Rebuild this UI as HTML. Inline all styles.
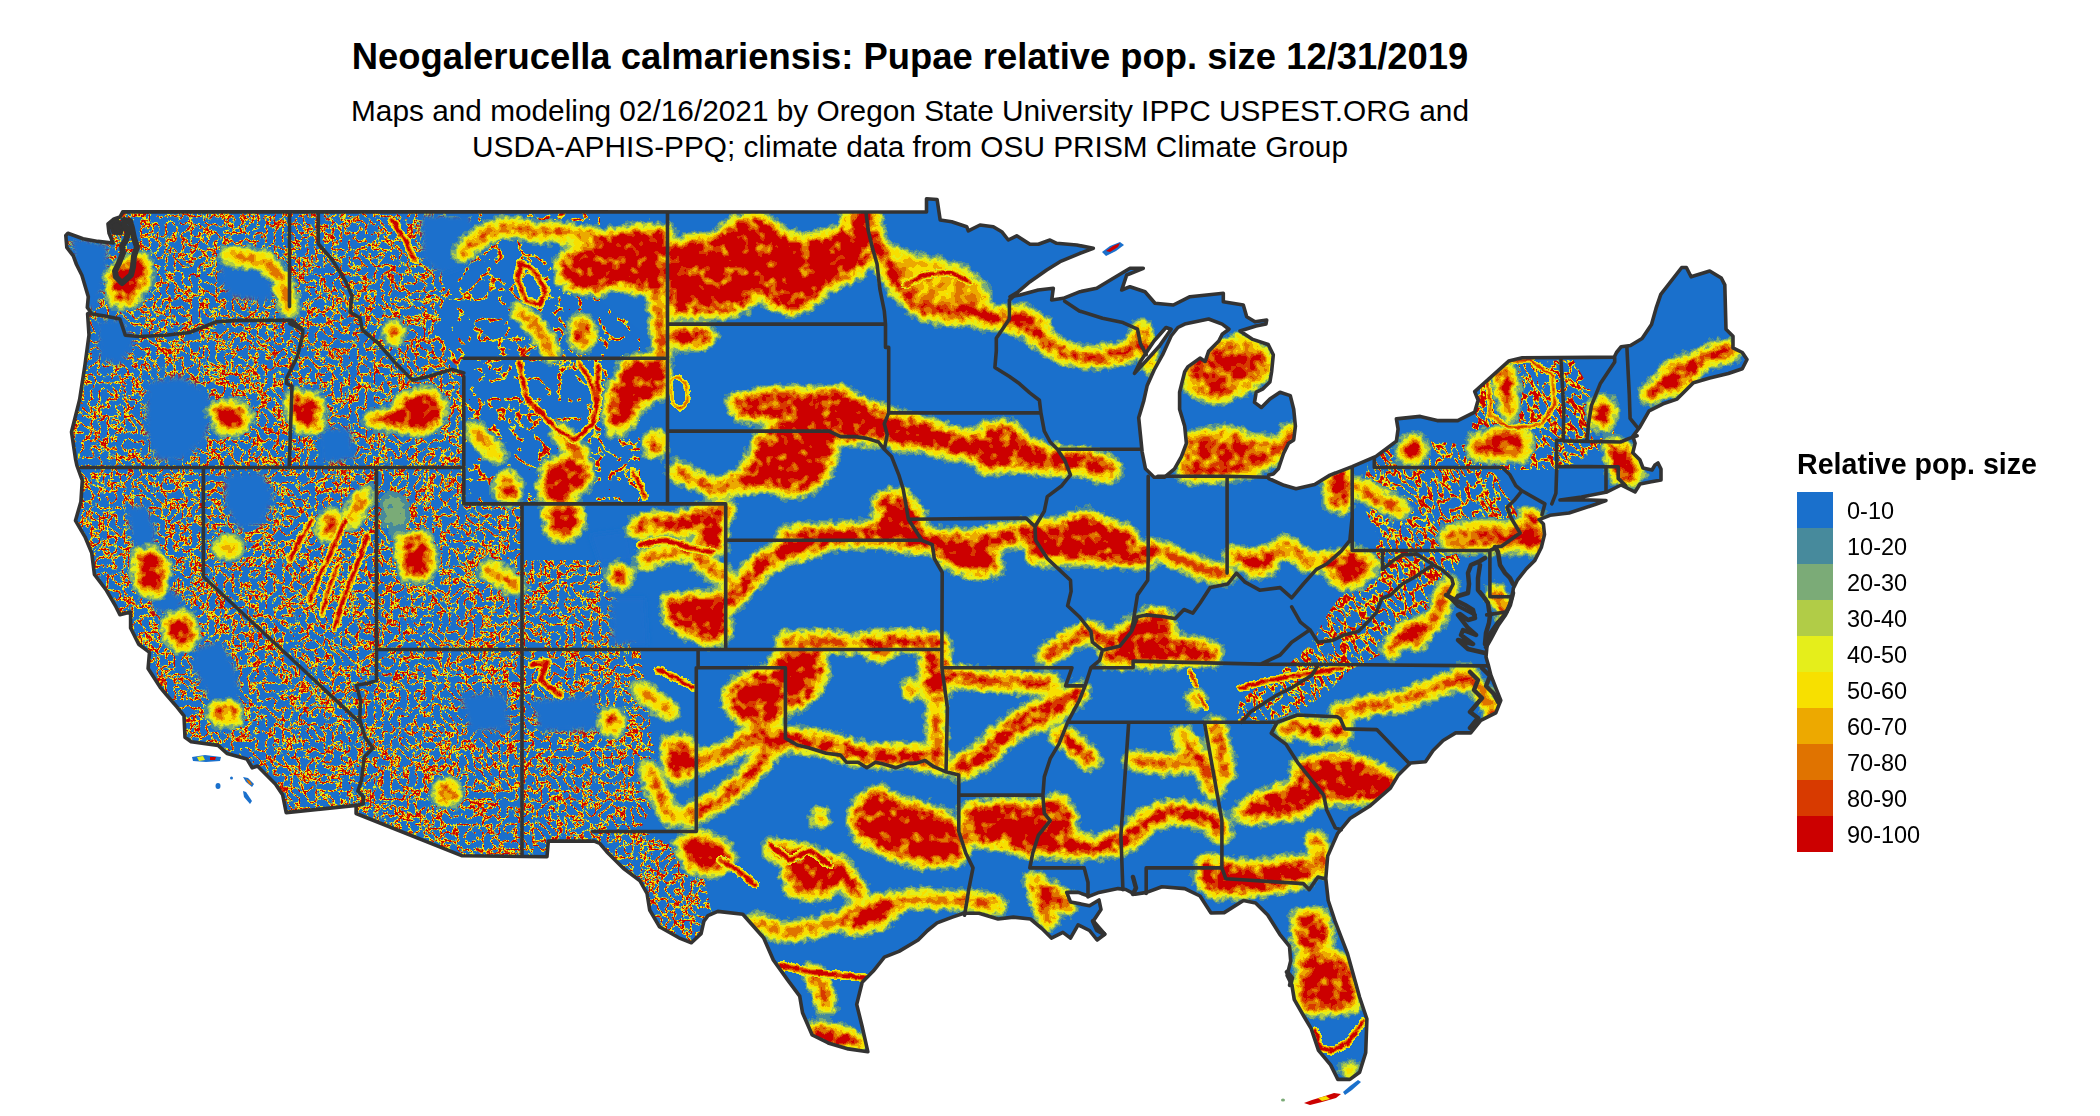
<!DOCTYPE html>
<html><head><meta charset="utf-8"><style>
html,body{margin:0;padding:0;background:#fff;width:2100px;height:1116px;overflow:hidden}
svg{display:block}
text{font-family:"Liberation Sans",Arial,sans-serif;fill:#000}
.t{font-size:36.4px;font-weight:bold}
.s{font-size:29.8px}
.lt{font-size:28.6px;font-weight:bold}
.lab{font-size:23.5px}
</style></head><body>
<svg width="2100" height="1116" viewBox="0 0 2100 1116">
<rect width="2100" height="1116" fill="#fff"/>
<text x="910" y="69.4" text-anchor="middle" class="t">Neogalerucella calmariensis: Pupae relative pop. size 12/31/2019</text>
<text x="910" y="120.9" text-anchor="middle" class="s">Maps and modeling 02/16/2021 by Oregon State University IPPC USPEST.ORG and</text>
<text x="910" y="156.9" text-anchor="middle" class="s">USDA-APHIS-PPQ; climate data from OSU PRISM Climate Group</text>
<defs>
<clipPath id="us"><path d="M113.1,243.0 L109.0,233.0 L108.0,224.0 L114.0,219.0 L120.0,217.0 L122.7,211.8 L926.5,212.0 L926.5,198.7 L937.1,199.5 L940.2,220.0 L951.7,221.7 L966.7,226.7 L968.3,230.8 L980.0,225.0 L993.3,226.7 L1001.7,231.7 L1008.3,240.0 L1016.7,235.8 L1030.0,244.2 L1038.3,244.2 L1050.0,240.0 L1056.7,243.3 L1076.7,245.0 L1093.3,248.3 L1080.0,253.3 L1060.0,261.7 L1046.7,270.0 L1030.0,281.7 L1018.3,291.7 L1010.0,296.7 L1020.0,295.0 L1038.3,290.0 L1053.3,288.3 L1051.7,300.0 L1063.3,298.3 L1080.0,291.7 L1096.7,288.3 L1113.3,278.3 L1130.0,268.3 L1143.3,268.3 L1126.7,275.0 L1121.7,290.0 L1130.0,286.7 L1145.0,291.7 L1155.0,303.3 L1173.3,305.0 L1190.0,296.7 L1223.3,293.3 L1223.3,301.7 L1243.3,305.0 L1246.7,316.7 L1255.0,321.7 L1266.7,320.0 L1266.0,324.0 L1256.0,326.0 L1240.0,331.0 L1252.8,339.4 L1268.2,344.5 L1273.3,354.7 L1271.6,371.7 L1269.9,382.0 L1263.0,388.8 L1256.2,392.2 L1254.5,402.4 L1261.4,407.5 L1269.9,399.0 L1280.0,392.2 L1290.3,395.6 L1293.7,409.2 L1295.4,426.2 L1293.7,439.9 L1288.6,443.3 L1283.5,453.5 L1278.4,468.8 L1273.3,473.9 L1268.7,475.1 L1268.7,478.5 L1284.0,485.3 L1296.0,488.7 L1314.7,484.5 L1330.0,475.1 L1352.1,466.6 L1376.0,456.4 L1396.4,441.1 L1398.1,429.1 L1396.4,418.9 L1420.2,416.4 L1437.2,420.6 L1457.7,420.6 L1474.7,412.1 L1478.1,400.2 L1474.7,391.7 L1491.7,376.4 L1508.7,361.1 L1522.3,357.7 L1614.2,357.2 L1616.5,352.5 L1621.2,346.7 L1630.5,345.5 L1642.1,338.5 L1651.5,324.6 L1656.1,308.2 L1660.8,294.3 L1681.7,267.5 L1686.4,267.5 L1691.1,276.8 L1709.7,271.0 L1721.3,278.0 L1724.8,284.9 L1726.0,329.2 L1733.0,336.2 L1733.0,347.9 L1742.3,352.5 L1747.0,359.5 L1742.3,368.8 L1728.3,373.5 L1709.7,378.1 L1693.4,382.8 L1677.1,399.1 L1663.1,403.8 L1649.1,410.8 L1639.8,427.1 L1632.8,436.4 L1635.1,443.4 L1632.8,452.7 L1639.8,459.7 L1643.0,468.0 L1652.0,470.0 L1655.0,465.0 L1658.0,463.0 L1661.0,469.0 L1661.0,480.0 L1650.0,482.0 L1640.0,484.0 L1635.0,492.0 L1621.0,485.0 L1607.0,492.0 L1581.5,497.0 L1560.0,500.0 L1590.0,500.0 L1606.0,500.5 L1595.0,504.5 L1569.0,513.0 L1550.0,515.3 L1539.1,519.6 L1543.4,523.9 L1544.5,534.6 L1541.3,547.5 L1534.8,560.4 L1526.2,569.0 L1517.6,579.8 L1513.3,588.4 L1512.3,597.0 L1506.9,612.0 L1497.2,622.8 L1489.7,633.5 L1487.0,646.0 L1486.0,657.0 L1488.3,665.0 L1490.8,675.0 L1495.8,687.8 L1500.8,700.3 L1495.8,712.8 L1480.8,720.4 L1470.7,732.9 L1455.7,732.9 L1443.1,740.5 L1433.1,750.5 L1425.5,761.8 L1410.5,763.0 L1397.9,775.6 L1390.4,788.1 L1370.3,805.7 L1350.3,818.2 L1337.7,833.3 L1327.7,855.9 L1326.4,870.9 L1325.8,878.7 L1328.2,900.5 L1335.4,922.2 L1347.5,953.7 L1359.6,997.2 L1366.9,1019.0 L1365.7,1052.8 L1359.6,1072.2 L1349.9,1079.4 L1337.8,1079.4 L1330.6,1064.9 L1318.5,1050.4 L1311.2,1028.6 L1304.0,1016.5 L1294.3,999.6 L1291.9,985.1 L1287.1,975.4 L1290.7,960.9 L1289.5,946.4 L1279.8,934.3 L1267.7,915.0 L1255.6,902.9 L1243.5,900.5 L1224.2,912.6 L1211.0,913.0 L1200.0,896.0 L1184.8,888.6 L1161.9,886.7 L1146.7,892.4 L1135.2,894.3 L1125.7,889.5 L1118.1,888.6 L1099.0,892.4 L1089.5,896.2 L1078.1,892.4 L1066.7,892.4 L1070.5,901.9 L1089.5,905.7 L1099.0,900.0 L1101.0,909.5 L1093.3,921.0 L1104.8,934.3 L1097.1,940.0 L1089.5,930.5 L1078.1,924.8 L1070.5,938.1 L1062.9,932.4 L1051.4,938.1 L1041.9,928.6 L1030.5,919.0 L1013.3,917.1 L998.1,919.0 L979.0,913.3 L963.8,913.3 L952.4,917.1 L937.1,922.9 L927.6,930.5 L918.1,940.0 L899.0,951.4 L884.4,957.2 L873.3,971.1 L862.2,982.2 L856.7,1004.4 L862.2,1026.7 L867.8,1051.7 L848.3,1048.9 L828.9,1043.3 L812.2,1035.0 L802.5,1012.8 L799.7,996.1 L787.2,979.4 L773.3,960.0 L763.6,937.8 L753.9,926.7 L742.8,914.2 L717.8,911.4 L708.0,915.6 L703.9,921.1 L701.1,933.6 L691.4,942.8 L678.9,937.8 L659.4,926.7 L649.7,910.0 L647.0,893.3 L640.0,880.8 L623.3,868.3 L606.7,851.7 L599.7,843.3 L594.2,841.1 L548.3,841.1 L547.0,856.7 L462.2,855.8 L356.1,813.5 L356.1,805.4 L286.2,812.6 L282.6,794.7 L275.4,784.0 L257.5,766.0 L252.2,767.8 L246.8,758.9 L227.0,753.5 L218.1,745.4 L191.2,741.8 L185.0,737.3 L184.0,715.8 L176.9,706.9 L166.0,694.3 L160.2,687.3 L148.1,668.5 L149.5,652.4 L138.7,644.3 L130.6,628.0 L130.6,612.0 L119.9,614.7 L115.9,606.7 L106.5,590.5 L94.4,574.4 L91.7,552.9 L85.0,536.8 L75.5,520.6 L80.9,501.8 L82.3,480.3 L76.9,465.5 L75.5,458.8 L71.5,432.0 L79.6,399.7 L85.0,364.7 L89.0,335.0 L87.6,313.7 L90.5,311.8 L87.3,307.5 L88.3,296.8 L85.1,286.0 L81.9,275.3 L76.5,264.5 L73.3,255.9 L66.8,247.3 L65.8,235.5 L67.9,233.3 L83.0,238.7 L98.0,241.4Z M1184.7,324.1 L1208.6,319.0 L1222.2,324.1 L1229.0,329.2 L1222.2,334.3 L1218.8,341.1 L1208.6,351.3 L1205.1,361.5 L1200.0,358.1 L1188.1,366.6 L1184.7,371.7 L1179.6,392.2 L1179.6,409.2 L1184.7,426.2 L1186.4,443.3 L1181.3,456.9 L1174.5,468.8 L1164.3,477.3 L1154.1,477.3 L1145.5,468.8 L1142.1,451.8 L1140.4,434.8 L1138.7,417.7 L1143.8,400.7 L1147.2,385.4 L1154.1,370.0 L1162.6,354.7 L1171.1,336.0 L1177.9,327.5Z M1134.5,373.4 L1145.5,361.5 L1159.2,346.2 L1171.1,329.2 L1166.0,327.5 L1154.0,341.0 L1140.4,361.5Z" clip-rule="evenodd"/></clipPath>
</defs>
<g clip-path="url(#us)">
<rect x="50" y="190" width="1710" height="920" fill="#1a70cc"/>
<defs>
<filter id="tex" filterUnits="userSpaceOnUse" x="50" y="190" width="720" height="800" color-interpolation-filters="sRGB"><feTurbulence type="turbulence" baseFrequency="0.12" numOctaves="3" seed="3" result="n"/><feColorMatrix in="n" type="matrix" values="1 0 0 0 0  1 0 0 0 0  1 0 0 0 0  0 0 0 0 1"/><feComponentTransfer><feFuncR type="discrete" tableValues="0.800 0.800 0.800 0.800 0.800 0.800 0.800 0.800 0.800 0.800 0.800 0.800 0.847 0.847 0.847 0.878 0.878 0.969 0.969 0.969 0.898 0.898 0.898 0.482 0.482 0.482 0.278 0.278 0.102 0.102 0.102 0.102 0.102 0.102 0.102 0.102 0.102 0.102 0.102 0.102 0.102 0.102 0.102 0.102 0.102 0.102 0.102 0.102 0.102 0.102 0.102 0.102 0.102 0.102 0.102 0.102 0.102 0.102 0.102 0.102 0.102 0.102 0.102 0.102 0.102 0.102 0.102 0.102 0.102 0.102 0.102 0.102 0.102 0.102 0.102 0.102 0.102 0.102 0.102 0.102 0.102 0.102 0.102 0.102 0.102 0.102 0.102 0.102 0.102 0.102 0.102 0.102 0.102 0.102 0.102 0.102 0.102 0.102 0.102 0.102"/><feFuncG type="discrete" tableValues="0.000 0.000 0.000 0.000 0.000 0.000 0.000 0.000 0.000 0.000 0.000 0.000 0.227 0.227 0.227 0.451 0.451 0.878 0.878 0.878 0.933 0.933 0.933 0.671 0.671 0.671 0.541 0.541 0.439 0.439 0.439 0.439 0.439 0.439 0.439 0.439 0.439 0.439 0.439 0.439 0.439 0.439 0.439 0.439 0.439 0.439 0.439 0.439 0.439 0.439 0.439 0.439 0.439 0.439 0.439 0.439 0.439 0.439 0.439 0.439 0.439 0.439 0.439 0.439 0.439 0.439 0.439 0.439 0.439 0.439 0.439 0.439 0.439 0.439 0.439 0.439 0.439 0.439 0.439 0.439 0.439 0.439 0.439 0.439 0.439 0.439 0.439 0.439 0.439 0.439 0.439 0.439 0.439 0.439 0.439 0.439 0.439 0.439 0.439 0.439"/><feFuncB type="discrete" tableValues="0.000 0.000 0.000 0.000 0.000 0.000 0.000 0.000 0.000 0.000 0.000 0.000 0.000 0.000 0.000 0.000 0.000 0.000 0.000 0.000 0.106 0.106 0.106 0.467 0.467 0.467 0.612 0.612 0.800 0.800 0.800 0.800 0.800 0.800 0.800 0.800 0.800 0.800 0.800 0.800 0.800 0.800 0.800 0.800 0.800 0.800 0.800 0.800 0.800 0.800 0.800 0.800 0.800 0.800 0.800 0.800 0.800 0.800 0.800 0.800 0.800 0.800 0.800 0.800 0.800 0.800 0.800 0.800 0.800 0.800 0.800 0.800 0.800 0.800 0.800 0.800 0.800 0.800 0.800 0.800 0.800 0.800 0.800 0.800 0.800 0.800 0.800 0.800 0.800 0.800 0.800 0.800 0.800 0.800 0.800 0.800 0.800 0.800 0.800 0.800"/><feFuncA type="discrete" tableValues="1.000 1.000 1.000 1.000 1.000 1.000 1.000 1.000 1.000 1.000 1.000 1.000 1.000 1.000 1.000 1.000 1.000 1.000 1.000 1.000 1.000 1.000 1.000 1.000 1.000 1.000 1.000 1.000 1.000 1.000 1.000 1.000 1.000 1.000 1.000 1.000 1.000 1.000 1.000 1.000 1.000 1.000 1.000 1.000 1.000 1.000 1.000 1.000 1.000 1.000 1.000 1.000 1.000 1.000 1.000 1.000 1.000 1.000 1.000 1.000 1.000 1.000 1.000 1.000 1.000 1.000 1.000 1.000 1.000 1.000 1.000 1.000 1.000 1.000 1.000 1.000 1.000 1.000 1.000 1.000 1.000 1.000 1.000 1.000 1.000 1.000 1.000 1.000 1.000 1.000 1.000 1.000 1.000 1.000 1.000 1.000 1.000 1.000 1.000 1.000"/></feComponentTransfer></filter>
<filter id="texl" filterUnits="userSpaceOnUse" x="50" y="190" width="720" height="800" color-interpolation-filters="sRGB"><feTurbulence type="turbulence" baseFrequency="0.05" numOctaves="3" seed="7" result="n"/><feColorMatrix in="n" type="matrix" values="1 0 0 0 0  1 0 0 0 0  1 0 0 0 0  0 0 0 0 1"/><feComponentTransfer><feFuncR type="discrete" tableValues="0.800 0.800 0.800 0.800 0.800 0.800 0.800 0.800 0.847 0.847 0.878 0.969 0.969 0.898 0.898 0.482 0.278 0.102 0.102 0.102 0.102 0.102 0.102 0.102 0.102 0.102 0.102 0.102 0.102 0.102 0.102 0.102 0.102 0.102 0.102 0.102 0.102 0.102 0.102 0.102 0.102 0.102 0.102 0.102 0.102 0.102 0.102 0.102 0.102 0.102 0.102 0.102 0.102 0.102 0.102 0.102 0.102 0.102 0.102 0.102 0.102 0.102 0.102 0.102 0.102 0.102 0.102 0.102 0.102 0.102 0.102 0.102 0.102 0.102 0.102 0.102 0.102 0.102 0.102 0.102 0.102 0.102 0.102 0.102 0.102 0.102 0.102 0.102 0.102 0.102 0.102 0.102 0.102 0.102 0.102 0.102 0.102 0.102 0.102 0.102"/><feFuncG type="discrete" tableValues="0.000 0.000 0.000 0.000 0.000 0.000 0.000 0.000 0.227 0.227 0.451 0.878 0.878 0.933 0.933 0.671 0.541 0.439 0.439 0.439 0.439 0.439 0.439 0.439 0.439 0.439 0.439 0.439 0.439 0.439 0.439 0.439 0.439 0.439 0.439 0.439 0.439 0.439 0.439 0.439 0.439 0.439 0.439 0.439 0.439 0.439 0.439 0.439 0.439 0.439 0.439 0.439 0.439 0.439 0.439 0.439 0.439 0.439 0.439 0.439 0.439 0.439 0.439 0.439 0.439 0.439 0.439 0.439 0.439 0.439 0.439 0.439 0.439 0.439 0.439 0.439 0.439 0.439 0.439 0.439 0.439 0.439 0.439 0.439 0.439 0.439 0.439 0.439 0.439 0.439 0.439 0.439 0.439 0.439 0.439 0.439 0.439 0.439 0.439 0.439"/><feFuncB type="discrete" tableValues="0.000 0.000 0.000 0.000 0.000 0.000 0.000 0.000 0.000 0.000 0.000 0.000 0.000 0.106 0.106 0.467 0.612 0.800 0.800 0.800 0.800 0.800 0.800 0.800 0.800 0.800 0.800 0.800 0.800 0.800 0.800 0.800 0.800 0.800 0.800 0.800 0.800 0.800 0.800 0.800 0.800 0.800 0.800 0.800 0.800 0.800 0.800 0.800 0.800 0.800 0.800 0.800 0.800 0.800 0.800 0.800 0.800 0.800 0.800 0.800 0.800 0.800 0.800 0.800 0.800 0.800 0.800 0.800 0.800 0.800 0.800 0.800 0.800 0.800 0.800 0.800 0.800 0.800 0.800 0.800 0.800 0.800 0.800 0.800 0.800 0.800 0.800 0.800 0.800 0.800 0.800 0.800 0.800 0.800 0.800 0.800 0.800 0.800 0.800 0.800"/><feFuncA type="discrete" tableValues="1.000 1.000 1.000 1.000 1.000 1.000 1.000 1.000 1.000 1.000 1.000 1.000 1.000 1.000 1.000 1.000 1.000 1.000 1.000 1.000 1.000 1.000 1.000 1.000 1.000 1.000 1.000 1.000 1.000 1.000 1.000 1.000 1.000 1.000 1.000 1.000 1.000 1.000 1.000 1.000 1.000 1.000 1.000 1.000 1.000 1.000 1.000 1.000 1.000 1.000 1.000 1.000 1.000 1.000 1.000 1.000 1.000 1.000 1.000 1.000 1.000 1.000 1.000 1.000 1.000 1.000 1.000 1.000 1.000 1.000 1.000 1.000 1.000 1.000 1.000 1.000 1.000 1.000 1.000 1.000 1.000 1.000 1.000 1.000 1.000 1.000 1.000 1.000 1.000 1.000 1.000 1.000 1.000 1.000 1.000 1.000 1.000 1.000 1.000 1.000"/></feComponentTransfer></filter>
<filter id="heat" filterUnits="userSpaceOnUse" x="50" y="190" width="1720" height="930" color-interpolation-filters="sRGB"><feGaussianBlur in="SourceAlpha" stdDeviation="5.0" result="b"/><feTurbulence type="fractalNoise" baseFrequency="0.15" numOctaves="2" seed="11" result="n"/><feDisplacementMap in="b" in2="n" scale="9" xChannelSelector="R" yChannelSelector="G" result="f"/><feTurbulence type="fractalNoise" baseFrequency="0.09" numOctaves="2" seed="23" result="m0"/><feColorMatrix in="m0" type="matrix" values="0 0 0 0 0  0 0 0 0 0  0 0 0 0 0  2.6 0 0 0 -1.05" result="m"/><feComposite in="f" in2="m" operator="arithmetic" k1="-0.55" k2="1" k3="0" k4="0" result="g"/><feColorMatrix in="g" type="matrix" values="0 0 0 1 0  0 0 0 1 0  0 0 0 1 0  0 0 0 1 0"/><feComponentTransfer><feFuncR type="discrete" tableValues="0.000 0.000 0.278 0.278 0.278 0.482 0.482 0.482 0.482 0.694 0.694 0.694 0.694 0.694 0.898 0.898 0.898 0.898 0.898 0.898 0.898 0.898 0.898 0.898 0.969 0.969 0.969 0.969 0.969 0.969 0.969 0.969 0.969 0.969 0.969 0.969 0.969 0.969 0.929 0.929 0.929 0.929 0.929 0.929 0.929 0.929 0.929 0.929 0.929 0.929 0.878 0.878 0.878 0.878 0.878 0.878 0.878 0.878 0.878 0.878 0.878 0.878 0.847 0.847 0.847 0.847 0.847 0.847 0.847 0.847 0.847 0.847 0.847 0.847 0.800 0.800 0.800 0.800 0.800 0.800 0.800 0.800 0.800 0.800 0.800 0.800 0.800 0.800 0.800 0.800 0.800 0.800 0.800 0.800 0.800 0.800 0.800 0.800 0.800 0.800"/><feFuncG type="discrete" tableValues="0.000 0.000 0.541 0.541 0.541 0.671 0.671 0.671 0.671 0.800 0.800 0.800 0.800 0.800 0.933 0.933 0.933 0.933 0.933 0.933 0.933 0.933 0.933 0.933 0.878 0.878 0.878 0.878 0.878 0.878 0.878 0.878 0.878 0.878 0.878 0.878 0.878 0.878 0.663 0.663 0.663 0.663 0.663 0.663 0.663 0.663 0.663 0.663 0.663 0.663 0.451 0.451 0.451 0.451 0.451 0.451 0.451 0.451 0.451 0.451 0.451 0.451 0.227 0.227 0.227 0.227 0.227 0.227 0.227 0.227 0.227 0.227 0.227 0.227 0.000 0.000 0.000 0.000 0.000 0.000 0.000 0.000 0.000 0.000 0.000 0.000 0.000 0.000 0.000 0.000 0.000 0.000 0.000 0.000 0.000 0.000 0.000 0.000 0.000 0.000"/><feFuncB type="discrete" tableValues="0.000 0.000 0.612 0.612 0.612 0.467 0.467 0.467 0.467 0.278 0.278 0.278 0.278 0.278 0.106 0.106 0.106 0.106 0.106 0.106 0.106 0.106 0.106 0.106 0.000 0.000 0.000 0.000 0.000 0.000 0.000 0.000 0.000 0.000 0.000 0.000 0.000 0.000 0.000 0.000 0.000 0.000 0.000 0.000 0.000 0.000 0.000 0.000 0.000 0.000 0.000 0.000 0.000 0.000 0.000 0.000 0.000 0.000 0.000 0.000 0.000 0.000 0.000 0.000 0.000 0.000 0.000 0.000 0.000 0.000 0.000 0.000 0.000 0.000 0.000 0.000 0.000 0.000 0.000 0.000 0.000 0.000 0.000 0.000 0.000 0.000 0.000 0.000 0.000 0.000 0.000 0.000 0.000 0.000 0.000 0.000 0.000 0.000 0.000 0.000"/><feFuncA type="discrete" tableValues="0.000 0.000 1.000 1.000 1.000 1.000 1.000 1.000 1.000 1.000 1.000 1.000 1.000 1.000 1.000 1.000 1.000 1.000 1.000 1.000 1.000 1.000 1.000 1.000 1.000 1.000 1.000 1.000 1.000 1.000 1.000 1.000 1.000 1.000 1.000 1.000 1.000 1.000 1.000 1.000 1.000 1.000 1.000 1.000 1.000 1.000 1.000 1.000 1.000 1.000 1.000 1.000 1.000 1.000 1.000 1.000 1.000 1.000 1.000 1.000 1.000 1.000 1.000 1.000 1.000 1.000 1.000 1.000 1.000 1.000 1.000 1.000 1.000 1.000 1.000 1.000 1.000 1.000 1.000 1.000 1.000 1.000 1.000 1.000 1.000 1.000 1.000 1.000 1.000 1.000 1.000 1.000 1.000 1.000 1.000 1.000 1.000 1.000 1.000 1.000"/></feComponentTransfer></filter>
<filter id="heatb" filterUnits="userSpaceOnUse" x="50" y="190" width="1720" height="930" color-interpolation-filters="sRGB"><feGaussianBlur in="SourceAlpha" stdDeviation="1.5" result="b"/><feTurbulence type="fractalNoise" baseFrequency="0.15" numOctaves="2" seed="11" result="n"/><feDisplacementMap in="b" in2="n" scale="4" xChannelSelector="R" yChannelSelector="G" result="f"/><feTurbulence type="fractalNoise" baseFrequency="0.09" numOctaves="2" seed="23" result="m0"/><feColorMatrix in="m0" type="matrix" values="0 0 0 0 0  0 0 0 0 0  0 0 0 0 0  2.6 0 0 0 -1.05" result="m"/><feComposite in="f" in2="m" operator="arithmetic" k1="-0.3" k2="1" k3="0" k4="0" result="g"/><feColorMatrix in="g" type="matrix" values="0 0 0 1 0  0 0 0 1 0  0 0 0 1 0  0 0 0 1 0"/><feComponentTransfer><feFuncR type="discrete" tableValues="0.000 0.000 0.000 0.000 0.000 0.000 0.000 0.000 0.000 0.000 0.000 0.000 0.694 0.694 0.898 0.898 0.898 0.898 0.898 0.898 0.898 0.898 0.898 0.898 0.969 0.969 0.969 0.969 0.969 0.969 0.969 0.969 0.969 0.969 0.969 0.969 0.969 0.969 0.929 0.929 0.929 0.929 0.929 0.929 0.929 0.929 0.929 0.929 0.929 0.929 0.878 0.878 0.878 0.878 0.878 0.878 0.878 0.878 0.878 0.878 0.878 0.878 0.847 0.847 0.847 0.847 0.847 0.847 0.847 0.847 0.847 0.847 0.847 0.847 0.800 0.800 0.800 0.800 0.800 0.800 0.800 0.800 0.800 0.800 0.800 0.800 0.800 0.800 0.800 0.800 0.800 0.800 0.800 0.800 0.800 0.800 0.800 0.800 0.800 0.800"/><feFuncG type="discrete" tableValues="0.000 0.000 0.000 0.000 0.000 0.000 0.000 0.000 0.000 0.000 0.000 0.000 0.800 0.800 0.933 0.933 0.933 0.933 0.933 0.933 0.933 0.933 0.933 0.933 0.878 0.878 0.878 0.878 0.878 0.878 0.878 0.878 0.878 0.878 0.878 0.878 0.878 0.878 0.663 0.663 0.663 0.663 0.663 0.663 0.663 0.663 0.663 0.663 0.663 0.663 0.451 0.451 0.451 0.451 0.451 0.451 0.451 0.451 0.451 0.451 0.451 0.451 0.227 0.227 0.227 0.227 0.227 0.227 0.227 0.227 0.227 0.227 0.227 0.227 0.000 0.000 0.000 0.000 0.000 0.000 0.000 0.000 0.000 0.000 0.000 0.000 0.000 0.000 0.000 0.000 0.000 0.000 0.000 0.000 0.000 0.000 0.000 0.000 0.000 0.000"/><feFuncB type="discrete" tableValues="0.000 0.000 0.000 0.000 0.000 0.000 0.000 0.000 0.000 0.000 0.000 0.000 0.278 0.278 0.106 0.106 0.106 0.106 0.106 0.106 0.106 0.106 0.106 0.106 0.000 0.000 0.000 0.000 0.000 0.000 0.000 0.000 0.000 0.000 0.000 0.000 0.000 0.000 0.000 0.000 0.000 0.000 0.000 0.000 0.000 0.000 0.000 0.000 0.000 0.000 0.000 0.000 0.000 0.000 0.000 0.000 0.000 0.000 0.000 0.000 0.000 0.000 0.000 0.000 0.000 0.000 0.000 0.000 0.000 0.000 0.000 0.000 0.000 0.000 0.000 0.000 0.000 0.000 0.000 0.000 0.000 0.000 0.000 0.000 0.000 0.000 0.000 0.000 0.000 0.000 0.000 0.000 0.000 0.000 0.000 0.000 0.000 0.000 0.000 0.000"/><feFuncA type="discrete" tableValues="0.000 0.000 0.000 0.000 0.000 0.000 0.000 0.000 0.000 0.000 0.000 0.000 1.000 1.000 1.000 1.000 1.000 1.000 1.000 1.000 1.000 1.000 1.000 1.000 1.000 1.000 1.000 1.000 1.000 1.000 1.000 1.000 1.000 1.000 1.000 1.000 1.000 1.000 1.000 1.000 1.000 1.000 1.000 1.000 1.000 1.000 1.000 1.000 1.000 1.000 1.000 1.000 1.000 1.000 1.000 1.000 1.000 1.000 1.000 1.000 1.000 1.000 1.000 1.000 1.000 1.000 1.000 1.000 1.000 1.000 1.000 1.000 1.000 1.000 1.000 1.000 1.000 1.000 1.000 1.000 1.000 1.000 1.000 1.000 1.000 1.000 1.000 1.000 1.000 1.000 1.000 1.000 1.000 1.000 1.000 1.000 1.000 1.000 1.000 1.000"/></feComponentTransfer></filter>
<clipPath id="westc"><polygon points="60.0,200.0 445.0,200.0 445.0,300.0 430.0,340.0 463.0,372.0 463.0,505.0 522.0,505.0 522.0,560.0 600.0,560.0 640.0,650.0 660.0,790.0 640.0,830.0 700.0,860.0 720.0,950.0 60.0,950.0"/></clipPath>
<clipPath id="westl"><polygon points="445.0,200.0 600.0,200.0 600.0,300.0 640.0,330.0 640.0,505.0 463.0,505.0 463.0,372.0 430.0,340.0 445.0,300.0"/></clipPath>
<clipPath id="appc"><polygon points="1370.0,455.0 1420.0,440.0 1470.0,445.0 1500.0,480.0 1520.0,520.0 1490.0,550.0 1460.0,560.0 1445.0,590.0 1420.0,620.0 1390.0,650.0 1350.0,670.0 1330.0,690.0 1300.0,712.0 1262.0,722.0 1235.0,722.0 1240.0,700.0 1280.0,672.0 1310.0,645.0 1330.0,610.0 1360.0,570.0 1380.0,540.0 1360.0,500.0"/><polygon points="1480.0,370.0 1560.0,360.0 1620.0,360.0 1640.0,400.0 1630.0,440.0 1600.0,450.0 1560.0,470.0 1500.0,470.0 1470.0,440.0"/></clipPath>
<filter id="texa" filterUnits="userSpaceOnUse" x="1150" y="340" width="520" height="420" color-interpolation-filters="sRGB"><feTurbulence type="turbulence" baseFrequency="0.16 0.08" numOctaves="2" seed="5" result="n"/><feColorMatrix in="n" type="matrix" values="1 0 0 0 0  1 0 0 0 0  1 0 0 0 0  0 0 0 0 1"/><feComponentTransfer><feFuncR type="discrete" tableValues="0.800 0.800 0.800 0.800 0.800 0.800 0.800 0.800 0.800 0.800 0.800 0.847 0.847 0.847 0.878 0.969 0.969 0.969 0.898 0.898 0.898 0.482 0.482 0.278 0.278 0.102 0.102 0.102 0.102 0.102 0.102 0.102 0.102 0.102 0.102 0.102 0.102 0.102 0.102 0.102 0.102 0.102 0.102 0.102 0.102 0.102 0.102 0.102 0.102 0.102 0.102 0.102 0.102 0.102 0.102 0.102 0.102 0.102 0.102 0.102 0.102 0.102 0.102 0.102 0.102 0.102 0.102 0.102 0.102 0.102 0.102 0.102 0.102 0.102 0.102 0.102 0.102 0.102 0.102 0.102 0.102 0.102 0.102 0.102 0.102 0.102 0.102 0.102 0.102 0.102 0.102 0.102 0.102 0.102 0.102 0.102 0.102 0.102 0.102 0.102"/><feFuncG type="discrete" tableValues="0.000 0.000 0.000 0.000 0.000 0.000 0.000 0.000 0.000 0.000 0.000 0.227 0.227 0.227 0.451 0.878 0.878 0.878 0.933 0.933 0.933 0.671 0.671 0.541 0.541 0.439 0.439 0.439 0.439 0.439 0.439 0.439 0.439 0.439 0.439 0.439 0.439 0.439 0.439 0.439 0.439 0.439 0.439 0.439 0.439 0.439 0.439 0.439 0.439 0.439 0.439 0.439 0.439 0.439 0.439 0.439 0.439 0.439 0.439 0.439 0.439 0.439 0.439 0.439 0.439 0.439 0.439 0.439 0.439 0.439 0.439 0.439 0.439 0.439 0.439 0.439 0.439 0.439 0.439 0.439 0.439 0.439 0.439 0.439 0.439 0.439 0.439 0.439 0.439 0.439 0.439 0.439 0.439 0.439 0.439 0.439 0.439 0.439 0.439 0.439"/><feFuncB type="discrete" tableValues="0.000 0.000 0.000 0.000 0.000 0.000 0.000 0.000 0.000 0.000 0.000 0.000 0.000 0.000 0.000 0.000 0.000 0.000 0.106 0.106 0.106 0.467 0.467 0.612 0.612 0.800 0.800 0.800 0.800 0.800 0.800 0.800 0.800 0.800 0.800 0.800 0.800 0.800 0.800 0.800 0.800 0.800 0.800 0.800 0.800 0.800 0.800 0.800 0.800 0.800 0.800 0.800 0.800 0.800 0.800 0.800 0.800 0.800 0.800 0.800 0.800 0.800 0.800 0.800 0.800 0.800 0.800 0.800 0.800 0.800 0.800 0.800 0.800 0.800 0.800 0.800 0.800 0.800 0.800 0.800 0.800 0.800 0.800 0.800 0.800 0.800 0.800 0.800 0.800 0.800 0.800 0.800 0.800 0.800 0.800 0.800 0.800 0.800 0.800 0.800"/><feFuncA type="discrete" tableValues="1.000 1.000 1.000 1.000 1.000 1.000 1.000 1.000 1.000 1.000 1.000 1.000 1.000 1.000 1.000 1.000 1.000 1.000 1.000 1.000 1.000 1.000 1.000 1.000 1.000 1.000 1.000 1.000 1.000 1.000 1.000 1.000 1.000 1.000 1.000 1.000 1.000 1.000 1.000 1.000 1.000 1.000 1.000 1.000 1.000 1.000 1.000 1.000 1.000 1.000 1.000 1.000 1.000 1.000 1.000 1.000 1.000 1.000 1.000 1.000 1.000 1.000 1.000 1.000 1.000 1.000 1.000 1.000 1.000 1.000 1.000 1.000 1.000 1.000 1.000 1.000 1.000 1.000 1.000 1.000 1.000 1.000 1.000 1.000 1.000 1.000 1.000 1.000 1.000 1.000 1.000 1.000 1.000 1.000 1.000 1.000 1.000 1.000 1.000 1.000"/></feComponentTransfer></filter>
</defs>
<g clip-path="url(#westc)"><rect x="50" y="190" width="720" height="800" filter="url(#tex)"/></g>
<g clip-path="url(#westl)"><rect x="50" y="190" width="720" height="800" filter="url(#texl)"/></g>
<g clip-path="url(#appc)" opacity="1"><rect x="1150" y="340" width="520" height="420" filter="url(#texa)" transform="rotate(-30 1400 600)"/></g>
<filter id="bsoft" x="-10%" y="-10%" width="120%" height="120%"><feGaussianBlur stdDeviation="2.5"/></filter>
<g fill="#1a70cc" filter="url(#bsoft)"><polygon stroke-width="0" points="70.0,236.0 108.0,244.0 108.0,272.0 96.0,309.0 84.0,309.0 74.0,260.0"/>
<polygon stroke-width="0" points="220.0,260.0 244.0,256.0 266.0,273.0 278.0,292.0 266.0,302.0 229.0,297.0 220.0,277.0"/>
<polygon stroke-width="0" points="147.0,381.0 181.0,376.0 205.0,389.0 215.0,406.0 205.0,442.0 181.0,461.0 157.0,461.0 145.0,430.0"/>
<polygon stroke-width="0" points="95.0,320.0 125.0,318.0 135.0,345.0 120.0,365.0 100.0,360.0"/>
<polygon stroke-width="0" points="125.0,508.0 145.0,505.0 157.0,530.0 152.0,557.0 135.0,552.0"/>
<polygon stroke-width="0" points="150.0,590.0 170.0,588.0 183.0,600.0 178.0,615.0 155.0,612.0"/>
<polygon stroke-width="0" points="195.0,647.0 221.0,641.0 237.0,670.0 241.0,705.0 215.0,708.0 202.0,686.0 192.0,666.0"/>
<polygon stroke-width="0" points="225.0,475.0 262.0,472.0 275.0,498.0 262.0,525.0 238.0,530.0 225.0,505.0"/>
<polygon stroke-width="0" points="421.0,215.0 470.0,215.0 480.0,240.0 470.0,265.0 440.0,275.0 422.0,260.0"/>
<polygon stroke-width="0" points="318.0,428.0 350.0,428.0 356.0,460.0 320.0,463.0"/>
<polygon stroke-width="0" points="460.0,695.0 505.0,693.0 511.0,730.0 470.0,732.0"/>
<polygon stroke-width="0" points="532.0,700.0 595.0,695.0 600.0,730.0 540.0,732.0"/>
<polygon stroke-width="0" points="610.0,598.0 645.0,598.0 648.0,645.0 612.0,645.0"/>
<polygon stroke-width="0" points="590.0,535.0 628.0,530.0 633.0,560.0 600.0,565.0"/></g>
<g filter="url(#heat)" fill="#000" stroke="#000" stroke-linejoin="round" stroke-linecap="round">
<polygon stroke-width="0" points="668.8,245.5 692.9,238.9 714.9,238.9 732.4,223.5 747.8,217.0 765.4,219.1 782.9,234.5 802.7,238.9 824.6,236.7 846.6,227.9 846.6,212.0 866.3,212.0 870.7,238.9 868.5,262.0 853.2,276.0 831.2,284.0 818.0,296.0 805.0,306.0 791.7,312.0 774.1,304.0 756.6,292.0 747.8,305.0 725.9,313.0 692.9,313.0 668.8,313.0"/>
<polygon stroke-width="0" points="671.0,328.0 710.5,330.0 712.7,339.9 699.5,345.0 682.0,345.0 671.0,343.0"/>
<polyline fill="none" points="735.0,404.0 758.8,398.0 782.9,396.0 813.6,398.0 840.0,395.0 857.5,405.0 879.5,416.0 895.0,425.0" stroke-width="10"/>
<polygon stroke-width="0" points="790.0,405.0 830.0,392.0 845.0,392.0 862.0,410.0 885.0,420.0 890.0,440.0 800.0,440.0"/>
<polyline fill="none" points="868.0,212.0 875.0,240.0 885.0,265.0 900.0,288.0 920.0,308.0 945.0,315.0 967.0,308.0 989.0,316.0 1005.0,318.0" stroke-width="11"/>
<polyline fill="none" points="462.0,253.0 477.0,240.0 497.0,228.0 517.0,228.0 536.0,233.0 556.0,232.0 576.0,236.0 605.0,240.0 635.0,234.0 665.0,234.0" stroke-width="9"/>
<polygon stroke-width="0" points="605.0,245.0 640.0,232.0 666.0,232.0 666.0,289.0 635.0,289.0 615.0,283.0 598.0,292.0 575.0,288.0 562.0,280.0 560.0,259.0 576.0,251.0"/>
<polyline fill="none" points="655.0,289.0 660.0,320.0 662.0,354.0" stroke-width="9"/>
<polyline fill="none" points="520.0,312.0 535.0,325.0 545.0,340.0 552.0,354.0" stroke-width="8"/>
<ellipse stroke-width="0" cx="582" cy="333" rx="9" ry="14" transform="rotate(0 582 333)"/>
<polygon stroke-width="0" points="629.3,359.7 666.0,359.7 666.0,391.3 647.0,399.1 627.3,422.8 613.5,434.6 607.6,414.9 611.5,389.3 617.4,379.4"/>
<polyline fill="none" points="560.0,432.0 572.0,445.0 580.0,455.0" stroke-width="9"/>
<polygon stroke-width="0" points="546.5,466.2 568.2,458.3 585.9,462.2 589.8,478.0 578.0,489.8 566.2,501.7 546.5,501.7 542.5,489.8"/>
<ellipse stroke-width="0" cx="508" cy="488" rx="9" ry="13" transform="rotate(0 508 488)"/>
<polyline fill="none" points="474.0,430.0 486.0,445.0 498.0,455.0" stroke-width="8"/>
<ellipse stroke-width="0" cx="655" cy="444" rx="7" ry="10" transform="rotate(0 655 444)"/>
<polyline fill="none" points="676.0,470.0 695.0,480.0 716.0,490.0 736.0,482.0 755.0,466.0 762.0,440.0" stroke-width="9"/>
<polygon stroke-width="0" points="546.0,506.0 578.0,506.0 580.0,525.0 570.0,537.0 552.0,535.0"/>
<polyline fill="none" points="640.0,525.0 660.0,520.0 680.0,528.0 700.0,522.0 720.0,512.0" stroke-width="9"/>
<polygon stroke-width="0" points="730.0,483.0 750.0,463.0 760.0,438.0 775.0,425.0 800.0,420.0 825.0,425.0 835.0,450.0 825.0,475.0 808.0,490.0 788.0,493.0 763.0,485.0 738.0,490.0"/>
<polyline fill="none" points="745.0,410.0 790.0,412.0 840.0,418.0 870.0,420.0 886.0,418.0" stroke-width="14"/>
<polygon stroke-width="0" points="884.0,412.0 926.0,422.0 951.0,432.0 976.0,437.0 1001.0,434.0 1026.0,444.0 1060.0,452.0 1060.0,468.0 1026.0,462.0 1001.0,458.0 976.0,458.0 950.0,455.0 925.0,447.0 895.0,445.0 886.0,440.0"/>
<polygon stroke-width="0" points="878.0,498.0 900.0,492.0 918.0,510.0 925.0,535.0 915.0,548.0 895.0,545.0 880.0,525.0"/>
<polyline fill="none" points="790.0,538.0 840.0,536.0 876.0,534.0 913.0,541.0 938.0,542.0 976.0,543.0 1010.0,536.0 1030.0,532.0 1060.0,532.0" stroke-width="16"/>
<polygon stroke-width="0" points="930.0,545.0 990.0,548.0 1000.0,570.0 975.0,575.0 950.0,565.0"/>
<polyline fill="none" points="700.0,612.0 715.0,604.0 730.0,600.0 748.0,580.0 763.0,563.0 788.0,550.0 818.0,543.0" stroke-width="15"/>
<ellipse stroke-width="0" cx="788" cy="665" rx="14" ry="14" transform="rotate(0 788 665)"/>
<polygon stroke-width="0" points="700.0,508.0 722.0,508.0 722.0,550.0 700.0,550.0"/>
<polygon stroke-width="0" points="700.0,596.0 722.0,596.0 722.0,641.0 700.0,641.0"/>
<polyline fill="none" points="980.0,318.0 1005.0,320.0 1030.0,330.0 1050.0,345.0 1068.0,355.0 1093.0,358.0 1118.0,355.0 1135.0,348.0 1143.0,335.0" stroke-width="11"/>
<polyline fill="none" points="1015.0,312.0 1030.0,318.0 1043.0,328.0" stroke-width="8"/>
<polyline fill="none" points="1140.0,328.0 1146.0,345.0 1150.0,365.0" stroke-width="8"/>
<g opacity="0.82"><polygon stroke-width="0" points="1193.0,355.0 1218.0,345.0 1243.0,338.0 1268.0,355.0 1268.0,375.0 1251.0,385.0 1218.0,400.0 1201.0,395.0 1186.0,385.0"/></g>
<g opacity="0.8"><polygon stroke-width="0" points="1186.0,436.0 1231.0,431.0 1256.0,441.0 1294.0,441.0 1281.0,456.0 1256.0,471.0 1218.0,478.0 1181.0,478.0"/></g>
<polygon stroke-width="0" points="980.0,428.0 1010.0,425.0 1030.0,445.0 1043.0,452.0 1080.0,452.0 1105.0,458.0 1120.0,472.0 1105.0,478.0 1080.0,470.0 1043.0,470.0 1017.0,466.0 980.0,470.0"/>
<polygon stroke-width="0" points="1030.0,531.0 1068.0,521.0 1085.0,513.0 1105.0,523.0 1131.0,531.0 1143.0,560.0 1030.0,560.0"/>
<polygon stroke-width="0" points="1105.0,642.0 1133.0,621.0 1156.0,610.0 1170.0,617.0 1170.0,638.0 1191.0,642.0 1217.0,647.0 1217.0,661.0 1133.0,663.0 1105.0,663.0"/>
<polyline fill="none" points="1047.0,656.0 1068.0,642.0 1087.0,631.0 1101.0,638.0" stroke-width="11"/>
<polyline fill="none" points="1040.0,548.0 1080.0,552.0 1120.0,556.0 1147.0,556.0" stroke-width="14"/>
<polyline fill="none" points="1152.0,548.0 1180.0,560.0 1205.0,570.0 1226.0,575.0" stroke-width="10"/>
<ellipse stroke-width="0" cx="1262" cy="561" rx="12" ry="10" transform="rotate(0 1262 561)"/>
<ellipse stroke-width="0" cx="1348" cy="573" rx="16" ry="12" transform="rotate(0 1348 573)"/>
<polyline fill="none" points="1290.0,730.0 1300.0,725.0 1315.0,735.0 1330.0,730.0 1343.0,735.0" stroke-width="9"/>
<polygon stroke-width="0" points="1296.0,765.0 1340.0,755.0 1370.0,765.0 1400.0,780.0 1400.0,800.0 1296.0,800.0"/>
<polyline fill="none" points="1133.0,760.0 1165.0,765.0 1203.0,760.0" stroke-width="9"/>
<polyline fill="none" points="1215.0,726.0 1220.0,750.0 1225.0,773.0" stroke-width="11"/>
<polyline fill="none" points="1060.0,735.0 1075.0,745.0 1090.0,760.0" stroke-width="12"/>
<polyline fill="none" points="1040.0,720.0 1060.0,705.0 1080.0,692.0" stroke-width="12"/>
<polygon stroke-width="0" points="778.0,654.0 820.0,649.0 824.0,675.0 810.0,698.0 790.0,710.0 782.0,687.0"/>
<polyline fill="none" points="785.0,642.0 820.0,641.0 850.0,644.0" stroke-width="10"/>
<polyline fill="none" points="865.0,643.0 900.0,641.0 940.0,644.0" stroke-width="12"/>
<ellipse stroke-width="0" cx="880" cy="652" rx="10" ry="5" transform="rotate(0 880 652)"/>
<polygon stroke-width="0" points="925.0,652.0 945.0,652.0 945.0,700.0 935.0,705.0 925.0,690.0"/>
<polyline fill="none" points="936.0,712.0 937.0,740.0 940.0,766.0" stroke-width="9"/>
<ellipse stroke-width="0" cx="912" cy="690" rx="5" ry="7" transform="rotate(0 912 690)"/>
<polygon stroke-width="0" points="731.0,687.0 755.0,673.0 782.0,670.0 782.0,715.0 762.0,728.0 738.0,717.0 727.0,705.0"/>
<polyline fill="none" points="750.0,738.0 785.0,738.0 820.0,743.0 866.0,756.0 913.0,756.0 936.0,761.0" stroke-width="14"/>
<polyline fill="none" points="687.0,817.0 715.0,803.0 745.0,780.0 768.0,752.0 785.0,738.0" stroke-width="11"/>
<polyline fill="none" points="680.0,770.0 703.0,761.0 727.0,752.0 750.0,738.0" stroke-width="10"/>
<polygon stroke-width="0" points="857.0,803.0 878.0,789.0 901.0,803.0 925.0,808.0 948.0,817.0 967.0,838.0 960.0,861.0 925.0,864.0 890.0,854.0 862.0,840.0 852.0,822.0"/>
<polyline fill="none" points="773.0,850.0 800.0,855.0 820.0,861.0 843.0,873.0 857.0,892.0" stroke-width="12"/>
<polyline fill="none" points="960.0,768.0 983.0,756.0 1006.0,733.0 1030.0,717.0 1060.0,705.0" stroke-width="16"/>
<polyline fill="none" points="946.0,675.0 980.0,680.0 1020.0,682.0 1052.0,685.0" stroke-width="11"/>
<polygon stroke-width="0" points="964.0,808.0 1006.0,803.0 1041.0,808.0 1060.0,822.0 1060.0,850.0 1030.0,854.0 1006.0,845.0 983.0,843.0 967.0,838.0"/>
<polyline fill="none" points="756.0,922.0 785.0,933.0 813.0,928.0 841.0,920.0 869.0,909.0 888.0,903.0 916.0,898.0 945.0,900.0 967.0,900.0 992.0,903.0" stroke-width="8"/>
<polygon stroke-width="0" points="841.0,915.0 869.0,902.0 890.0,898.0 897.0,910.0 880.0,925.0 850.0,931.0"/>
<polygon stroke-width="0" points="785.0,862.0 820.0,860.0 847.0,862.0 840.0,885.0 815.0,897.0 790.0,890.0"/>
<polyline fill="none" points="813.0,972.0 822.0,990.0 826.0,1006.0" stroke-width="10"/>
<polygon stroke-width="0" points="812.0,1025.0 840.0,1030.0 862.0,1040.0 862.0,1048.0 830.0,1046.0 812.0,1038.0"/>
<polyline fill="none" points="967.0,900.0 985.0,903.0 997.0,906.0" stroke-width="10"/>
<polyline fill="none" points="1035.0,882.0 1042.0,900.0 1048.0,920.0" stroke-width="11"/>
<polygon stroke-width="0" points="1040.0,803.0 1062.0,799.0 1072.0,814.0 1070.0,835.0 1094.0,842.0 1122.0,831.0 1122.0,850.0 1083.0,855.0 1051.0,852.0 1040.0,842.0"/>
<polyline fill="none" points="1124.0,842.0 1148.0,820.0 1169.0,812.0 1190.0,814.0 1212.0,820.0 1221.0,831.0" stroke-width="14"/>
<polygon stroke-width="0" points="1234.0,814.0 1255.0,799.0 1277.0,790.0 1309.0,782.0 1320.0,799.0 1298.0,816.0 1277.0,816.0 1255.0,820.0"/>
<polygon stroke-width="0" points="1309.0,782.0 1330.0,771.0 1363.0,773.0 1384.0,782.0 1373.0,792.0 1341.0,799.0 1320.0,799.0"/>
<polygon stroke-width="0" points="1203.0,859.0 1223.0,863.0 1255.0,867.0 1277.0,863.0 1298.0,859.0 1317.0,867.0 1309.0,880.0 1277.0,889.0 1244.0,893.0 1212.0,893.0 1199.0,880.0"/>
<polygon stroke-width="0" points="1296.0,915.0 1320.0,912.0 1330.0,935.0 1318.0,953.0 1298.0,948.0"/>
<g opacity="0.85"><polygon stroke-width="0" points="1298.0,958.0 1330.0,952.0 1352.0,965.0 1350.0,1000.0 1320.0,1000.0 1302.0,985.0"/></g>
<polyline fill="none" points="1315.0,840.0 1320.0,855.0 1322.0,867.0" stroke-width="10"/>
<polyline fill="none" points="1040.0,890.0 1055.0,895.0 1066.0,905.0" stroke-width="12"/>
<g opacity="0.82"><polygon stroke-width="0" points="1301.0,973.0 1310.0,965.0 1344.0,963.0 1355.0,980.0 1357.0,1007.0 1337.0,1011.0 1317.0,1012.0 1301.0,1010.0 1298.0,994.0"/></g>
<g opacity="0.6"><ellipse stroke-width="0" cx="1350" cy="1070" rx="6" ry="5" transform="rotate(0 1350 1070)"/></g>
<polygon stroke-width="0" points="1327.0,472.0 1345.0,468.0 1350.0,490.0 1345.0,510.0 1330.0,505.0"/>
<polyline fill="none" points="1358.0,487.0 1379.0,499.0 1400.0,509.0" stroke-width="10"/>
<ellipse stroke-width="0" cx="1412" cy="450" rx="10" ry="12" transform="rotate(30 1412 450)"/>
<g opacity="0.85"><polygon stroke-width="0" points="1472.0,440.0 1500.0,430.0 1527.0,432.0 1527.0,455.0 1500.0,458.0 1472.0,455.0"/></g>
<polygon stroke-width="0" points="1496.0,372.0 1512.0,368.0 1513.0,396.0 1500.0,396.0"/>
<g opacity="0.8"><polygon stroke-width="0" points="1445.0,530.0 1490.0,525.0 1527.0,528.0 1527.0,548.0 1445.0,548.0"/></g>
<polygon stroke-width="0" points="1523.0,512.0 1540.0,515.0 1544.0,540.0 1538.0,552.0 1525.0,548.0"/>
<polyline fill="none" points="1290.0,432.0 1292.0,450.0" stroke-width="10"/>
<polyline fill="none" points="1651.0,394.0 1675.0,376.0 1698.0,362.0 1721.0,352.0 1733.0,350.0" stroke-width="12"/>
<polygon stroke-width="0" points="1663.0,370.0 1690.0,358.0 1698.0,372.0 1680.0,390.0 1663.0,390.0"/>
<ellipse stroke-width="0" cx="1602" cy="413" rx="10" ry="13" transform="rotate(0 1602 413)"/>
<polygon stroke-width="0" points="1607.0,441.0 1625.0,445.0 1640.0,470.0 1635.0,483.0 1615.0,478.0"/>
<polyline fill="none" points="1503.0,371.0 1506.0,390.0 1510.0,413.0" stroke-width="8"/>
<polygon stroke-width="0" points="111.0,273.0 128.0,261.0 145.0,256.0 147.0,280.0 133.0,302.0 113.0,302.0"/>
<polyline fill="none" points="229.0,256.0 266.0,261.0 282.0,280.0 290.0,309.0" stroke-width="8"/>
<polygon stroke-width="0" points="212.0,408.0 235.0,404.0 249.0,415.0 240.0,430.0 220.0,430.0"/>
<polygon stroke-width="0" points="292.0,394.0 318.0,398.0 320.0,428.0 300.0,430.0"/>
<polygon stroke-width="0" points="136.0,555.0 155.0,550.0 166.0,570.0 160.0,595.0 140.0,590.0"/>
<polygon stroke-width="0" points="212.0,707.0 237.0,705.0 237.0,721.0 215.0,721.0"/>
<polygon stroke-width="0" points="168.0,618.0 188.0,615.0 195.0,640.0 180.0,648.0 168.0,638.0"/>
<polyline fill="none" points="352.0,520.0 358.0,505.0 366.0,495.0" stroke-width="8"/>
<ellipse stroke-width="0" cx="330" cy="525" rx="8" ry="12" transform="rotate(20 330 525)"/>
<g opacity="0.5"><ellipse stroke-width="0" cx="228" cy="548" rx="12" ry="9" transform="rotate(0 228 548)"/></g>
<polygon stroke-width="0" points="405.0,396.0 431.0,391.0 443.0,406.0 436.0,426.0 418.0,431.0 393.0,426.0 368.0,423.0 370.0,416.0 393.0,413.0"/>
<polygon stroke-width="0" points="290.0,397.0 310.0,398.0 310.0,420.0 292.0,420.0"/>
<ellipse stroke-width="0" cx="394" cy="333" rx="6" ry="8" transform="rotate(0 394 333)"/>
<polygon stroke-width="0" points="400.0,540.0 425.0,535.0 433.0,560.0 425.0,578.0 405.0,575.0"/>
<g opacity="0.08"><polygon stroke-width="0" points="383.0,495.0 405.0,493.0 408.0,530.0 395.0,535.0 383.0,525.0"/></g>
<polyline fill="none" points="488.0,570.0 500.0,575.0 516.0,586.0" stroke-width="9"/>
<polyline fill="none" points="637.0,528.0 673.0,524.0 709.0,514.0 726.0,510.0" stroke-width="11"/>
<polyline fill="none" points="644.0,560.0 668.0,552.0 691.0,550.0 709.0,568.0 726.0,578.0" stroke-width="9"/>
<ellipse stroke-width="0" cx="620" cy="576" rx="9" ry="9" transform="rotate(0 620 576)"/>
<polygon stroke-width="0" points="666.0,598.0 700.0,596.0 726.0,600.0 726.0,639.0 690.0,635.0 668.0,620.0"/>
<ellipse stroke-width="0" cx="612" cy="722" rx="8" ry="10" transform="rotate(0 612 722)"/>
<polygon stroke-width="0" points="666.0,742.0 690.0,740.0 694.0,765.0 680.0,782.0 668.0,770.0"/>
<polyline fill="none" points="648.0,770.0 660.0,795.0 672.0,818.0" stroke-width="9"/>
<ellipse stroke-width="0" cx="447" cy="793" rx="10" ry="10" transform="rotate(0 447 793)"/>
<polyline fill="none" points="1234.0,555.0 1262.0,567.0 1285.0,545.0 1308.0,562.0 1332.0,562.0 1355.0,555.0 1371.0,567.0" stroke-width="9"/>
<ellipse stroke-width="0" cx="1256" cy="564" rx="12" ry="9" transform="rotate(0 1256 564)"/>
<ellipse stroke-width="0" cx="1345" cy="567" rx="16" ry="11" transform="rotate(0 1345 567)"/>
<polyline fill="none" points="1390.0,650.0 1401.0,637.0 1413.0,632.0 1436.0,620.0 1441.0,602.0 1450.0,585.0" stroke-width="9"/>
<ellipse stroke-width="0" cx="1414" cy="634" rx="13" ry="11" transform="rotate(0 1414 634)"/>
<polyline fill="none" points="1338.0,713.0 1366.0,706.0 1401.0,702.0 1425.0,692.0 1448.0,683.0 1471.0,678.0" stroke-width="9"/>
<ellipse stroke-width="0" cx="1196" cy="700" rx="5" ry="6" transform="rotate(0 1196 700)"/>
<polyline fill="none" points="1495.0,592.0 1502.0,605.0 1508.0,618.0" stroke-width="9"/>
<polyline fill="none" points="1462.0,672.0 1480.0,690.0 1495.0,712.0 1490.0,730.0" stroke-width="8"/>
<polyline fill="none" points="1283.0,730.0 1300.0,724.0 1330.0,732.0 1345.0,728.0" stroke-width="8"/>
<polyline fill="none" points="1182.0,735.0 1200.0,760.0 1215.0,790.0" stroke-width="10"/>
<polygon stroke-width="0" points="678.0,840.0 700.0,835.0 725.0,845.0 732.0,862.0 715.0,872.0 690.0,868.0"/>
<ellipse stroke-width="0" cx="820" cy="818" rx="5" ry="6" transform="rotate(0 820 818)"/>
<polyline fill="none" points="640.0,690.0 655.0,700.0 670.0,712.0" stroke-width="8"/>
<g opacity="0.5"><polygon stroke-width="0" points="880.0,245.0 905.0,255.0 935.0,262.0 965.0,270.0 985.0,290.0 990.0,318.0 960.0,322.0 930.0,312.0 905.0,295.0 888.0,275.0"/></g>
</g>
<g filter="url(#heatb)" fill="#000" stroke="#000" stroke-linejoin="round" stroke-linecap="round">
<polyline fill="none" points="1490.0,395.0 1485.0,375.0 1500.0,362.0 1530.0,360.0 1552.0,375.0 1555.0,405.0 1540.0,425.0 1510.0,428.0 1490.0,415.0 1490.0,395.0" stroke-width="3"/>
<polyline fill="none" points="905.0,285.0 925.0,275.0 950.0,272.0 970.0,282.0" stroke-width="4.8"/>
<polyline fill="none" points="520.0,262.0 535.0,272.0 546.0,290.0 540.0,305.0 525.0,300.0 518.0,280.0 520.0,262.0" stroke-width="4.8"/>
<polyline fill="none" points="519.0,362.0 527.0,399.0 548.0,420.0 560.0,432.0 575.0,440.0 592.0,425.0 598.0,400.0 598.0,365.0" stroke-width="4.8"/>
<polyline fill="none" points="578.0,362.0 590.0,380.0 595.0,400.0" stroke-width="4.0"/>
<polyline fill="none" points="632.0,470.0 640.0,485.0 645.0,498.0" stroke-width="4.0"/>
<polyline fill="none" points="670.0,380.0 678.0,376.0 686.0,385.0 688.0,400.0 680.0,410.0 672.0,402.0 670.0,380.0" stroke-width="2.4"/>
<polyline fill="none" points="640.0,545.0 665.0,540.0 690.0,548.0 712.0,552.0" stroke-width="5.6"/>
<polyline fill="none" points="780.0,965.0 810.0,972.0 840.0,975.0 866.0,978.0" stroke-width="5.6"/>
<polyline fill="none" points="1315.0,1030.0 1320.0,1048.0 1333.0,1051.0 1347.0,1043.0 1357.0,1030.0 1363.0,1022.0" stroke-width="4.8"/>
<polyline fill="none" points="310.0,600.0 318.0,580.0 330.0,555.0 345.0,520.0" stroke-width="4.8"/>
<polyline fill="none" points="335.0,628.0 343.0,600.0 355.0,570.0 368.0,535.0" stroke-width="4.8"/>
<polyline fill="none" points="322.0,615.0 328.0,590.0 338.0,565.0" stroke-width="4.0"/>
<polyline fill="none" points="290.0,560.0 300.0,540.0 312.0,520.0" stroke-width="4.8"/>
<polyline fill="none" points="392.0,220.0 405.0,240.0 415.0,260.0" stroke-width="4.8"/>
<polyline fill="none" points="532.0,665.0 548.0,662.0 540.0,680.0 560.0,695.0" stroke-width="5.6"/>
<polyline fill="none" points="658.0,670.0 676.0,678.0 694.0,688.0" stroke-width="4.8"/>
<polyline fill="none" points="1240.0,688.0 1270.0,680.0 1300.0,675.0 1343.0,668.0" stroke-width="4.8"/>
<polyline fill="none" points="1190.0,672.0 1196.0,685.0" stroke-width="4.0"/>
<polyline fill="none" points="1200.0,695.0 1206.0,708.0" stroke-width="4.0"/>
<polyline fill="none" points="720.0,860.0 740.0,872.0 755.0,885.0" stroke-width="5.6"/>
<polyline fill="none" points="770.0,845.0 790.0,860.0 810.0,850.0 830.0,865.0" stroke-width="5.6"/>
</g>
</g>

<g>
<path d="M192,757 L205,755 L221,757 L220,761 L206,762 L193,761Z" fill="#1a70cc"/>
<path d="M197,757 L203,756 L205,760 L199,761Z" fill="#e5ee1b"/>
<path d="M210,757 L216,757 L215,760 L210,760Z" fill="#cc0000"/>
<ellipse cx="218" cy="786" rx="2.5" ry="3" fill="#1a70cc"/>
<ellipse cx="231.5" cy="778" rx="1.5" ry="1.5" fill="#1a70cc"/>
<path d="M243,777 L248,778 L254,784 L252,787 L246,782Z" fill="#1a70cc"/>
<path d="M246,779 L250,781 L252,785 L249,784Z" fill="#e07300"/>
<path d="M243,791 L246,792 L252,801 L250,804 L244,797Z" fill="#1a70cc"/>
<path d="M1102,252 L1110,246 L1120,242 L1124,245 L1116,251 L1106,256Z" fill="#1a70cc"/>
<path d="M1106,251 L1113,246 L1120,243 L1118,247 L1110,252Z" fill="#cc0000"/>
<path d="M1304,1103 L1312,1100 L1322,1097 L1334,1093 L1341,1094 L1336,1098 L1322,1102 L1310,1105Z" fill="#cc0000"/>
<path d="M1318,1098 L1326,1096 L1330,1099 L1322,1101Z" fill="#f7e000"/>
<path d="M1343,1092 L1350,1086 L1358,1080 L1361,1082 L1352,1090 L1345,1095Z" fill="#1a70cc"/>
<ellipse cx="1283" cy="1100" rx="2" ry="1.5" fill="#7bab77"/>
</g>
<path d="M1184.7,324.1 L1208.6,319.0 L1222.2,324.1 L1229.0,329.2 L1222.2,334.3 L1218.8,341.1 L1208.6,351.3 L1205.1,361.5 L1200.0,358.1 L1188.1,366.6 L1184.7,371.7 L1179.6,392.2 L1179.6,409.2 L1184.7,426.2 L1186.4,443.3 L1181.3,456.9 L1174.5,468.8 L1164.3,477.3 L1154.1,477.3 L1145.5,468.8 L1142.1,451.8 L1140.4,434.8 L1138.7,417.7 L1143.8,400.7 L1147.2,385.4 L1154.1,370.0 L1162.6,354.7 L1171.1,336.0 L1177.9,327.5Z M1134.5,373.4 L1145.5,361.5 L1159.2,346.2 L1171.1,329.2 L1166.0,327.5 L1154.0,341.0 L1140.4,361.5Z" fill="#fff" stroke="#333" stroke-width="3.6" stroke-linejoin="round"/>
<path d="M90.3,313.7 L105.0,316.0 L119.9,319.0 L125.3,335.2 L138.7,336.5 L165.6,335.2 L189.8,332.5 L216.7,321.7 L238.2,320.4 L292.0,320.4 L302.7,329.8 L302.7,335.2 M302.7,335.2 L297.3,356.7 L286.6,378.2 L286.6,383.5 L292.0,386.2 L289.2,466.9 M289.5,212.7 L289.5,306.6 M289.8,323.6 L302.7,329.8 M81.1,467.5 L463.8,467.5 M203.4,467.5 L203.4,576.7 L359.6,722.3 M376.5,467.5 L376.5,680.4 L369.2,683.0 L356.4,685.2 L360.5,700.5 L359.6,722.3 M359.7,719.4 L365.0,737.3 L373.1,748.1 L364.2,757.0 L361.5,780.4 L357.9,791.1 L363.3,796.5 L363.3,803.7 L356.1,805.4 M318.3,212.0 L318.3,243.8 L332.3,259.9 L345.7,281.4 L352.0,296.0 L350.0,312.0 L360.0,318.0 L362.4,330.0 L378.0,343.0 L394.7,362.3 L412.6,380.2 L430.0,376.0 L452.0,369.4 L463.8,373.0 M463.8,376.5 L463.8,503.9 L522.0,503.9 M463.8,358.3 L667.5,358.3 M667.5,212.7 L667.5,503.9 L725.7,503.9 L725.7,649.5 M522.0,503.9 L667.5,503.9 M376.5,649.5 L725.7,649.5 M522.0,503.9 L522.0,855.9 M698.1,649.5 L698.1,667.7 L696.3,667.7 L696.3,831.5 L592.7,831.5 M698.1,667.7 L785.4,667.7 L785.4,738.3 M785.4,738.3 L797.0,744.9 L808.6,747.8 L826.1,753.2 L840.6,755.1 L846.5,762.3 L858.1,762.3 L866.8,767.8 L875.6,762.3 L884.3,764.2 L895.9,767.8 L907.6,763.4 L916.3,763.1 L925.0,760.5 L933.8,766.7 L946.0,771.8 M725.7,649.5 L941.9,649.5 M725.7,540.3 L921.8,540.3 M667.5,324.1 L885.5,324.1 M667.5,431.1 L829.0,431.1 L840.6,436.6 L855.2,436.6 L866.8,438.4 L878.5,442.0 L884.3,449.3 M885.5,324.1 L884.3,311.0 L879.9,289.1 L877.0,263.7 L872.7,249.1 L868.3,230.9 L866.0,212.7 M885.5,324.1 L885.5,347.4 L888.7,347.4 L888.7,412.9 L884.3,423.8 L887.2,434.7 L884.3,449.3 M888.7,412.9 L1040.9,412.9 M1040.9,412.9 L1039.4,400.2 L1029.8,392.9 L1019.6,383.8 L1009.4,376.5 L994.9,367.4 L996.3,351.0 L996.3,338.3 L1009.4,319.0 L1009.4,300.1 L1015.2,294.6 M1040.9,412.9 L1044.3,431.1 L1050.2,442.0 L1057.4,449.3 L1064.7,460.2 L1070.5,474.8 L1061.8,485.7 L1047.3,496.6 L1044.3,511.2 L1035.0,526.5 M908.4,519.2 L1026.0,518.1 L1035.0,526.5 M884.3,449.3 L891.6,456.6 L898.8,474.8 L903.2,489.3 L905.8,503.9 L908.4,519.2 L921.8,540.3 M921.8,540.3 L932.3,544.7 L934.3,558.5 L942.2,572.3 L941.9,649.5 L941.9,667.7 M941.9,667.7 L1072.0,667.7 L1065.6,685.9 L1085.1,685.9 M941.9,667.7 L947.4,707.7 L946.0,771.8 M946.0,771.8 L958.8,775.1 L958.8,795.1 L1042.9,795.1 M958.8,795.1 L958.8,831.5 L965.8,853.3 L973.0,867.9 L968.7,889.7 L964.6,915.2 M1042.9,795.1 L1044.3,813.3 L1050.2,820.6 L1038.5,835.1 L1032.7,853.3 L1029.8,867.9 L1084.2,867.9 L1088.0,882.5 L1088.0,897.0 M1042.9,795.1 L1044.3,776.9 L1050.2,758.7 L1058.9,744.1 L1067.6,722.3 L1073.4,711.4 L1079.3,700.5 L1085.1,685.9 L1090.9,667.7 L1099.6,660.4 L1102.5,650.2 M1128.7,722.3 L1120.9,835.1 L1122.9,889.7 M1067.6,722.3 L1277.1,722.3 M1204.4,722.3 L1221.9,820.6 L1221.9,867.9 M1146.2,893.4 L1146.2,867.9 L1221.9,867.9 M1221.9,867.9 L1225.9,878.8 L1303.3,883.6 L1309.2,889.7 L1317.9,877.0 L1325.2,878.8 M1090.9,667.7 L1133.1,667.7 L1133.1,661.1 L1260.6,664.1 L1318.5,664.4 M1241.6,722.3 L1251.0,711.4 L1265.5,702.3 L1277.1,695.0 L1291.7,687.7 L1303.3,680.4 L1312.1,675.0 L1318.5,664.4 M1260.6,664.1 L1280.1,655.0 L1291.7,642.2 L1310.0,629.8 L1300.4,622.2 L1291.7,606.9 M1102.5,650.2 L1120.0,645.9 L1131.6,631.3 L1137.5,616.7 L1146.2,614.9 L1163.7,616.7 L1175.3,618.6 L1184.0,609.5 L1192.8,613.1 L1200.0,603.3 L1210.2,587.6 L1227.7,584.0 L1236.4,573.1 L1245.1,582.2 L1259.7,590.2 L1280.1,587.6 L1291.7,597.8 L1303.3,584.0 L1316.4,569.4 L1326.6,564.0 L1341.2,551.2 L1349.9,540.3 L1352.2,517.0 M1131.6,631.3 L1134.6,613.1 L1137.5,594.9 L1147.7,580.3 L1148.2,558.5 L1148.2,476.2 M1057.7,449.3 L1140.4,449.3 M1035.0,526.5 L1035.6,540.3 L1047.3,558.5 L1058.9,569.4 L1070.5,580.3 L1071.1,591.3 L1067.6,605.8 L1079.3,616.7 L1090.9,631.3 L1092.4,642.2 L1102.5,650.2 M1227.1,573.1 L1227.1,478.4 M1157.8,476.2 L1227.1,476.2 L1267.0,477.3 M1352.2,517.0 L1352.2,467.5 M1352.2,517.0 L1352.2,550.5 L1489.9,550.5 M1382.5,550.5 L1382.5,569.4 L1393.5,560.3 L1402.3,554.9 L1416.8,554.1 L1433.7,565.1 M1433.7,565.1 L1425.6,569.4 L1415.4,576.7 L1402.3,584.0 L1390.6,594.9 L1381.9,598.5 L1376.1,613.1 L1367.4,622.2 L1358.6,631.3 L1344.1,634.9 L1332.4,640.4 L1317.9,642.2 L1310.0,629.8 M1433.7,565.1 L1441.6,569.4 L1451.7,578.5 L1453.2,584.0 L1447.4,594.9 L1457.6,605.8 L1475.0,614.9 M1489.9,550.5 L1489.9,596.7 L1511.4,596.7 M1486.7,614.9 L1505.6,612.0 M1489.9,550.5 L1498.3,546.5 L1501.2,546.5 L1509.9,540.3 L1520.1,533.0 L1511.4,518.5 L1507.0,507.5 L1514.3,500.3 L1521.9,490.8 M1374.3,457.7 L1374.3,467.5 L1502.4,467.5 L1509.9,474.8 L1515.8,485.7 L1521.9,490.8 M1521.9,490.8 L1544.9,503.9 L1542.0,514.8 M1551.8,503.9 L1555.9,493.3 L1556.8,465.7 L1556.5,440.2 L1563.2,440.2 L1563.8,410.4 L1560.9,358.3 M1563.2,440.9 L1620.5,442.0 L1629.3,438.4 L1637.1,435.8 M1586.8,440.9 L1588.5,423.8 L1591.4,405.6 L1600.2,383.8 L1614.7,361.9 L1614.7,357.9 M1638.0,428.2 L1630.1,418.4 L1629.3,394.7 L1626.9,347.4 M1556.8,466.4 L1606.0,466.8 L1606.0,491.9 M1606.0,466.8 L1618.2,466.8 L1618.2,478.4 L1625.8,485.7 M1318.5,664.4 L1487.5,665.9 M1277.1,722.3 L1297.5,715.0 L1337.1,716.8 L1340.3,718.7 L1344.7,728.9 L1376.7,729.6 L1409.5,763.8 M1277.1,722.3 L1271.3,733.2 L1285.9,744.1 L1297.5,762.3 L1309.2,776.9 L1323.7,795.1 L1326.6,809.7 L1335.3,827.9 L1341.2,829.7 M1146.2,354.7 L1140.4,343.7 L1137.5,329.2 L1122.9,322.6 L1102.5,318.3 L1079.3,311.0 L1064.7,301.2" fill="none" stroke="#333" stroke-width="3.6" stroke-linejoin="round" stroke-linecap="round"/>
<path d="M113.1,243.0 L109.0,233.0 L108.0,224.0 L114.0,219.0 L120.0,217.0 L122.7,211.8 L926.5,212.0 L926.5,198.7 L937.1,199.5 L940.2,220.0 L951.7,221.7 L966.7,226.7 L968.3,230.8 L980.0,225.0 L993.3,226.7 L1001.7,231.7 L1008.3,240.0 L1016.7,235.8 L1030.0,244.2 L1038.3,244.2 L1050.0,240.0 L1056.7,243.3 L1076.7,245.0 L1093.3,248.3 L1080.0,253.3 L1060.0,261.7 L1046.7,270.0 L1030.0,281.7 L1018.3,291.7 L1010.0,296.7 L1020.0,295.0 L1038.3,290.0 L1053.3,288.3 L1051.7,300.0 L1063.3,298.3 L1080.0,291.7 L1096.7,288.3 L1113.3,278.3 L1130.0,268.3 L1143.3,268.3 L1126.7,275.0 L1121.7,290.0 L1130.0,286.7 L1145.0,291.7 L1155.0,303.3 L1173.3,305.0 L1190.0,296.7 L1223.3,293.3 L1223.3,301.7 L1243.3,305.0 L1246.7,316.7 L1255.0,321.7 L1266.7,320.0 L1266.0,324.0 L1256.0,326.0 L1240.0,331.0 L1252.8,339.4 L1268.2,344.5 L1273.3,354.7 L1271.6,371.7 L1269.9,382.0 L1263.0,388.8 L1256.2,392.2 L1254.5,402.4 L1261.4,407.5 L1269.9,399.0 L1280.0,392.2 L1290.3,395.6 L1293.7,409.2 L1295.4,426.2 L1293.7,439.9 L1288.6,443.3 L1283.5,453.5 L1278.4,468.8 L1273.3,473.9 L1268.7,475.1 L1268.7,478.5 L1284.0,485.3 L1296.0,488.7 L1314.7,484.5 L1330.0,475.1 L1352.1,466.6 L1376.0,456.4 L1396.4,441.1 L1398.1,429.1 L1396.4,418.9 L1420.2,416.4 L1437.2,420.6 L1457.7,420.6 L1474.7,412.1 L1478.1,400.2 L1474.7,391.7 L1491.7,376.4 L1508.7,361.1 L1522.3,357.7 L1614.2,357.2 L1616.5,352.5 L1621.2,346.7 L1630.5,345.5 L1642.1,338.5 L1651.5,324.6 L1656.1,308.2 L1660.8,294.3 L1681.7,267.5 L1686.4,267.5 L1691.1,276.8 L1709.7,271.0 L1721.3,278.0 L1724.8,284.9 L1726.0,329.2 L1733.0,336.2 L1733.0,347.9 L1742.3,352.5 L1747.0,359.5 L1742.3,368.8 L1728.3,373.5 L1709.7,378.1 L1693.4,382.8 L1677.1,399.1 L1663.1,403.8 L1649.1,410.8 L1639.8,427.1 L1632.8,436.4 L1635.1,443.4 L1632.8,452.7 L1639.8,459.7 L1643.0,468.0 L1652.0,470.0 L1655.0,465.0 L1658.0,463.0 L1661.0,469.0 L1661.0,480.0 L1650.0,482.0 L1640.0,484.0 L1635.0,492.0 L1621.0,485.0 L1607.0,492.0 L1581.5,497.0 L1560.0,500.0 L1590.0,500.0 L1606.0,500.5 L1595.0,504.5 L1569.0,513.0 L1550.0,515.3 L1539.1,519.6 L1543.4,523.9 L1544.5,534.6 L1541.3,547.5 L1534.8,560.4 L1526.2,569.0 L1517.6,579.8 L1513.3,588.4 L1512.3,597.0 L1506.9,612.0 L1497.2,622.8 L1489.7,633.5 L1487.0,646.0 L1486.0,657.0 L1488.3,665.0 L1490.8,675.0 L1495.8,687.8 L1500.8,700.3 L1495.8,712.8 L1480.8,720.4 L1470.7,732.9 L1455.7,732.9 L1443.1,740.5 L1433.1,750.5 L1425.5,761.8 L1410.5,763.0 L1397.9,775.6 L1390.4,788.1 L1370.3,805.7 L1350.3,818.2 L1337.7,833.3 L1327.7,855.9 L1326.4,870.9 L1325.8,878.7 L1328.2,900.5 L1335.4,922.2 L1347.5,953.7 L1359.6,997.2 L1366.9,1019.0 L1365.7,1052.8 L1359.6,1072.2 L1349.9,1079.4 L1337.8,1079.4 L1330.6,1064.9 L1318.5,1050.4 L1311.2,1028.6 L1304.0,1016.5 L1294.3,999.6 L1291.9,985.1 L1287.1,975.4 L1290.7,960.9 L1289.5,946.4 L1279.8,934.3 L1267.7,915.0 L1255.6,902.9 L1243.5,900.5 L1224.2,912.6 L1211.0,913.0 L1200.0,896.0 L1184.8,888.6 L1161.9,886.7 L1146.7,892.4 L1135.2,894.3 L1125.7,889.5 L1118.1,888.6 L1099.0,892.4 L1089.5,896.2 L1078.1,892.4 L1066.7,892.4 L1070.5,901.9 L1089.5,905.7 L1099.0,900.0 L1101.0,909.5 L1093.3,921.0 L1104.8,934.3 L1097.1,940.0 L1089.5,930.5 L1078.1,924.8 L1070.5,938.1 L1062.9,932.4 L1051.4,938.1 L1041.9,928.6 L1030.5,919.0 L1013.3,917.1 L998.1,919.0 L979.0,913.3 L963.8,913.3 L952.4,917.1 L937.1,922.9 L927.6,930.5 L918.1,940.0 L899.0,951.4 L884.4,957.2 L873.3,971.1 L862.2,982.2 L856.7,1004.4 L862.2,1026.7 L867.8,1051.7 L848.3,1048.9 L828.9,1043.3 L812.2,1035.0 L802.5,1012.8 L799.7,996.1 L787.2,979.4 L773.3,960.0 L763.6,937.8 L753.9,926.7 L742.8,914.2 L717.8,911.4 L708.0,915.6 L703.9,921.1 L701.1,933.6 L691.4,942.8 L678.9,937.8 L659.4,926.7 L649.7,910.0 L647.0,893.3 L640.0,880.8 L623.3,868.3 L606.7,851.7 L599.7,843.3 L594.2,841.1 L548.3,841.1 L547.0,856.7 L462.2,855.8 L356.1,813.5 L356.1,805.4 L286.2,812.6 L282.6,794.7 L275.4,784.0 L257.5,766.0 L252.2,767.8 L246.8,758.9 L227.0,753.5 L218.1,745.4 L191.2,741.8 L185.0,737.3 L184.0,715.8 L176.9,706.9 L166.0,694.3 L160.2,687.3 L148.1,668.5 L149.5,652.4 L138.7,644.3 L130.6,628.0 L130.6,612.0 L119.9,614.7 L115.9,606.7 L106.5,590.5 L94.4,574.4 L91.7,552.9 L85.0,536.8 L75.5,520.6 L80.9,501.8 L82.3,480.3 L76.9,465.5 L75.5,458.8 L71.5,432.0 L79.6,399.7 L85.0,364.7 L89.0,335.0 L87.6,313.7 L90.5,311.8 L87.3,307.5 L88.3,296.8 L85.1,286.0 L81.9,275.3 L76.5,264.5 L73.3,255.9 L66.8,247.3 L65.8,235.5 L67.9,233.3 L83.0,238.7 L98.0,241.4Z" fill="none" stroke="#333" stroke-width="3.6" stroke-linejoin="round"/>
<path d="M110.0,224.0 L117.0,220.0 L124.0,226.0 L121.0,234.0 L113.0,233.0Z" fill="#333" stroke="#333" stroke-width="3" stroke-linejoin="round"/>
<path d="M124.0,220.0 L130.0,221.0 L132.0,228.0 L134.0,238.0 L137.0,247.0 L134.0,256.0 L133.0,267.0 L131.0,275.0 L122.0,283.0 L116.0,277.0 L115.0,271.0 L119.0,263.0 L123.0,253.0 L122.0,246.0 L126.0,240.0 L128.0,232.0 L125.0,226.0Z" fill="none" stroke="#333" stroke-width="6" stroke-linejoin="round"/>
<path d="M1485.0,558.0 L1480.0,561.0 L1471.0,565.0 L1468.0,573.0 L1469.0,584.0 L1468.0,593.0 L1458.0,596.0 L1455.0,600.0 L1465.0,605.0 L1473.0,610.0 L1475.0,618.0 L1468.0,620.0 L1460.0,614.0 L1458.0,615.0 L1468.0,628.0 L1476.0,635.0 L1463.0,630.0 L1461.0,635.0 L1473.0,644.0 L1458.0,640.0 L1468.0,649.0 L1485.0,653.0 M1446.0,595.0 L1455.0,600.0 M1480.0,565.0 L1478.0,578.0 L1478.0,590.0 L1483.0,596.0 L1488.0,603.0 L1489.0,610.0 L1490.0,615.0 L1489.0,623.0 L1486.0,633.0 L1485.0,644.0 M1513.0,593.0 L1510.0,605.0 L1505.0,615.0 L1498.0,625.0 L1490.0,640.0 L1486.0,647.0 M1495.0,547.0 L1498.0,552.0 L1500.0,565.0 L1505.0,573.0 L1510.0,578.0 L1513.0,584.0 M1470.0,672.0 L1478.0,680.0 L1474.0,690.0 L1482.0,698.0 L1476.0,705.0 L1470.0,712.0 L1478.0,718.0 L1470.0,728.0 M1482.0,668.0 L1490.0,676.0 L1486.0,686.0 L1494.0,694.0 L1498.0,702.0 M1133.0,877.0 L1136.0,888.0 L1133.0,894.0 M1093.0,921.0 L1097.0,930.0 L1104.0,934.0 M1287.0,972.0 L1292.0,978.0 L1290.0,985.0" fill="none" stroke="#333" stroke-width="4.5" stroke-linejoin="round" stroke-linecap="round"/>
<text x="1797" y="474" class="lt">Relative pop. size</text>
<rect x="1797" y="492" width="36" height="36" fill="#1a70cc"/><text x="1847" y="519" class="lab">0-10</text><rect x="1797" y="528" width="36" height="36" fill="#478a9c"/><text x="1847" y="555" class="lab">10-20</text><rect x="1797" y="564" width="36" height="36" fill="#7bab77"/><text x="1847" y="591" class="lab">20-30</text><rect x="1797" y="600" width="36" height="36" fill="#b1cc47"/><text x="1847" y="627" class="lab">30-40</text><rect x="1797" y="636" width="36" height="36" fill="#e5ee1b"/><text x="1847" y="663" class="lab">40-50</text><rect x="1797" y="672" width="36" height="36" fill="#f7e000"/><text x="1847" y="699" class="lab">50-60</text><rect x="1797" y="708" width="36" height="36" fill="#eda900"/><text x="1847" y="735" class="lab">60-70</text><rect x="1797" y="744" width="36" height="36" fill="#e07300"/><text x="1847" y="771" class="lab">70-80</text><rect x="1797" y="780" width="36" height="36" fill="#d83a00"/><text x="1847" y="807" class="lab">80-90</text><rect x="1797" y="816" width="36" height="36" fill="#cc0000"/><text x="1847" y="843" class="lab">90-100</text>
</svg>
</body></html>
